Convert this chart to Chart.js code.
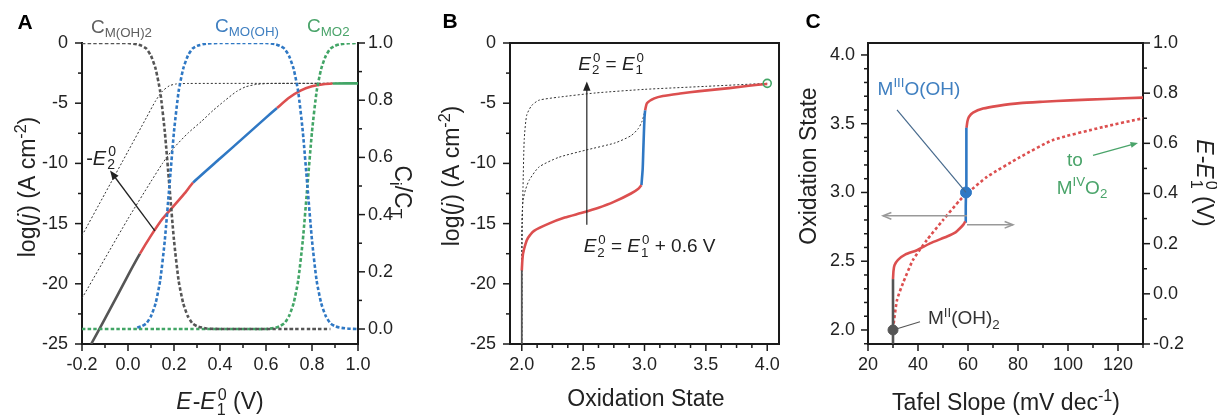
<!DOCTYPE html>
<html>
<head>
<meta charset="utf-8">
<script src="https://cdn.jsdelivr.net/npm/chart.js@4.4.1/dist/chart.umd.min.js"></script>
<style>
  html, body { margin: 0; padding: 0; background: #fff; }
  #wrap { position: relative; width: 1217px; height: 415px; overflow: hidden; }
  .panel { position: absolute; top: 0; height: 415px; }
</style>
</head>
<body>
<div id="wrap">
  <div class="panel" style="left:0;width:420px"><canvas id="chartA" width="420" height="415"></canvas></div>
  <div class="panel" style="left:420px;width:370px"><canvas id="chartB" width="370" height="415"></canvas></div>
  <div class="panel" style="left:790px;width:427px"><canvas id="chartC" width="427" height="415"></canvas></div>
</div>
<script>
// ---- panel A: surface fractions vs potential (right axis) ----
const aE      = [-0.2, 0.0, 0.04, 0.06, 0.08, 0.10, 0.12, 0.14, 0.16, 0.18, 0.20, 0.22, 0.24, 0.26, 0.28, 0.30, 0.34, 0.40, 0.50, 0.60, 0.64, 0.66, 0.68, 0.70, 0.72, 0.74, 0.76, 0.78, 0.80, 0.82, 0.84, 0.86, 0.88, 0.90, 0.92, 0.96, 1.0];
const aCMOH2  = [1, 1, 0.995, 0.99, 0.98, 0.955, 0.91, 0.83, 0.69, 0.5, 0.31, 0.17, 0.09, 0.045, 0.02, 0.01, 0.002, 0, 0, 0, 0, 0, 0, 0, 0, 0, 0, 0, 0, 0, 0, 0, 0, null, null, null, null];
const aCMOOH  = [null, null, 0.005, 0.01, 0.02, 0.045, 0.09, 0.17, 0.31, 0.5, 0.69, 0.83, 0.91, 0.955, 0.98, 0.99, 0.998, 1, 1, 1, 0.996, 0.99, 0.98, 0.955, 0.91, 0.83, 0.69, 0.5, 0.31, 0.17, 0.09, 0.045, 0.02, 0.01, 0.005, 0.001, 0];
const aCMO2   = [0, 0, 0, 0, 0, 0, 0, 0, 0, 0, 0, 0, 0, 0, 0, 0, 0, 0, 0, 0, 0.004, 0.01, 0.02, 0.045, 0.09, 0.17, 0.31, 0.5, 0.69, 0.83, 0.91, 0.955, 0.98, 0.99, 0.995, 0.999, 1];
// panel A: log(j) curves
const aJx  = [-0.16, -0.10, 0.0, 0.052, 0.10, 0.15, 0.20, 0.25, 0.283, 0.40, 0.50, 0.60, 0.648, 0.70, 0.75, 0.80, 0.85, 0.89, 0.95, 1.0];
const aJy  = [-25, -22.9, -19.3, -17.5, -16.0, -14.6, -13.5, -12.4, -11.6, -9.6, -7.9, -6.2, -5.4, -4.55, -3.95, -3.6, -3.42, -3.37, -3.35, -3.35];
const aT1x = [-0.2, -0.1, 0.0, 0.08, 0.12, 0.15, 0.18, 0.21, 0.26, 1.0];
const aT1y = [-16, -12.5, -9.0, -6.2, -4.8, -4.0, -3.55, -3.4, -3.36, -3.35];
const aT2x = [-0.2, 0.0, 0.1, 0.15, 0.2, 0.26, 0.32, 0.37, 0.42, 0.47, 0.51, 0.56, 0.62, 1.0];
const aT2y = [-21.2, -14.6, -11.5, -10.0, -8.7, -7.5, -6.5, -5.6, -4.8, -4.05, -3.65, -3.43, -3.36, -3.35];
const aXTicks = [-0.2, 0.0, 0.2, 0.4, 0.6, 0.8, 1.0];
const aYTicks = [0, -5, -10, -15, -20, -25];
const aY2Ticks = [0.0, 0.2, 0.4, 0.6, 0.8, 1.0];

// ---- panel B: log(j) vs oxidation state ----
const bGrayX = [2.0, 2.0];
const bGrayY = [-25, -18.9];
const bRed1X = [2.0, 2.005, 2.01, 2.03, 2.05, 2.1, 2.22, 2.35, 2.49, 2.62, 2.75, 2.89, 2.95, 2.975];
const bRed1Y = [-18.9, -18.0, -17.5, -16.7, -16.2, -15.6, -15.0, -14.5, -14.1, -13.7, -13.2, -12.5, -12.1, -11.8];
const bBlueX = [2.975, 2.985, 2.99, 2.995, 3.0, 3.005];
const bBlueY = [-11.8, -10.5, -9.0, -7.5, -6.2, -5.6];
const bRed2X = [3.005, 3.02, 3.08, 3.15, 3.29, 3.45, 3.69, 3.85, 4.0];
const bRed2Y = [-5.6, -5.0, -4.6, -4.4, -4.2, -4.0, -3.75, -3.55, -3.4];
const bT1x = [2.0, 2.002, 2.006, 2.01, 2.02, 2.04, 2.08, 2.14, 2.3, 2.6, 3.0, 3.5, 4.0];
const bT1y = [-25, -18, -14, -12, -8, -6, -5.2, -4.75, -4.5, -4.15, -3.85, -3.6, -3.35];
const bT2x = [2.0, 2.0, 2.01, 2.03, 2.06, 2.14, 2.3, 2.52, 2.76, 2.89, 2.95, 2.98, 3.0];
const bT2y = [-25, -15, -13.1, -12.2, -11.4, -10.3, -9.5, -8.9, -8.3, -7.7, -7.1, -6.5, -5.8];
const bEnd = [{ x: 4.0, y: -3.35 }];
const bXTicks = [2.0, 2.5, 3.0, 3.5, 4.0];
const bYTicks = [0, -5, -10, -15, -20, -25];

// ---- panel C: oxidation state / potential vs Tafel slope ----
const cGrayX = [30, 30];
const cGrayY = [1.9, 2.37];
const cRed1X = [30, 30.2, 30.6, 32, 35, 39.6, 44.8, 51.6, 55, 56.8, 58.3, 58.9];
const cRed1Y = [2.37, 2.43, 2.47, 2.51, 2.55, 2.58, 2.63, 2.68, 2.71, 2.74, 2.77, 2.79];
const cBlueX = [58.9, 59.1, 59.2, 59.3, 59.4];
const cBlueY = [2.79, 2.9, 3.0, 3.3, 3.47];
const cRed2X = [59.4, 59.8, 60.4, 62, 66, 72, 80.8, 90, 100.8, 115, 130];
const cRed2Y = [3.47, 3.52, 3.55, 3.58, 3.61, 3.63, 3.65, 3.66, 3.67, 3.68, 3.69];
const cPotX = [30, 31.6, 34, 38, 43.6, 50, 56.8, 59.6, 67.6, 80.8, 94, 114, 130];
const cPotY = [-0.14, -0.025, 0.043, 0.135, 0.215, 0.294, 0.374, 0.40, 0.466, 0.545, 0.613, 0.665, 0.70];
const cStart = [{ x: 30, y: 2.0 }];
const cMid = [{ x: 59.2, y: 3.0 }];
const cXTicks = [20, 40, 60, 80, 100, 120];
const cYTicks = [2.0, 2.5, 3.0, 3.5, 4.0];
const cY2Ticks = [-0.2, 0.0, 0.2, 0.4, 0.6, 0.8, 1.0];

const FF = '"Liberation Sans", Arial, Helvetica, sans-serif';
const RED = '#dc4f4f', BLUE = '#2f78c4', GREEN = '#42a566', GRAY = '#555555', INK = '#1a1a1a';

Chart.defaults.font.family = FF;
Chart.defaults.font.size = 18;
Chart.defaults.color = '#222';
Chart.defaults.animation = false;

const xy = (xs, ys) => xs.map((x, i) => ({ x, y: ys[i] }));

function curve(xs, ys, color, width, extra) {
  return Object.assign({
    data: xy(xs, ys), borderColor: color, borderWidth: width,
    pointRadius: 0, tension: 0.2, fill: false
  }, extra || {});
}

function axis(pos, min, max, labels, fmt, pad, size) {
  const horiz = pos === 'bottom' || pos === 'top';
  return {
    type: 'linear', position: pos, min: min, max: max,
    grid: { display: false, drawTicks: false },
    border: { display: true, color: INK, width: 2 },
    ticks: { padding: pad, color: '#222', font: { size: 18 }, autoSkip: false, maxRotation: 0, callback: fmt },
    afterBuildTicks: s => { s.ticks = labels.map(v => ({ value: v })); },
    afterFit: s => { if (horiz) s.height = size; else s.width = size; }
  };
}

const fix1 = v => Number(v).toFixed(1);
const plain = v => String(v);

// text with super/subscripts; runs: {t, it, sup, sub} or {st:[sup, sub]}
function rich(ctx, runs, x, y, size, color, rot, align) {
  const sm = size * 0.7;
  const f = (s, it) => (it ? 'italic ' : '') + s + 'px ' + FF;
  ctx.save();
  ctx.translate(x, y);
  if (rot) ctx.rotate(rot);
  ctx.fillStyle = color;
  ctx.textAlign = 'left';
  ctx.textBaseline = 'alphabetic';
  const widths = runs.map(r => {
    if (r.st) {
      ctx.font = f(sm);
      return Math.max(ctx.measureText(r.st[0]).width, ctx.measureText(r.st[1]).width) + 1;
    }
    ctx.font = f(r.sup || r.sub ? sm : size, r.it);
    return ctx.measureText(r.t).width + (r.it ? 1 : 0);
  });
  const total = widths.reduce((a, b) => a + b, 0);
  let cx = align === 'left' ? 0 : -total / 2;
  const base = size * 0.36;
  runs.forEach((r, i) => {
    if (r.st) {
      ctx.font = f(sm);
      ctx.fillText(r.st[0], cx + 1, base - size * 0.42);
      ctx.fillText(r.st[1], cx, base + size * 0.24);
    } else if (r.sup) {
      ctx.font = f(sm); ctx.fillText(r.t, cx, base - size * 0.4);
    } else if (r.sub) {
      ctx.font = f(sm); ctx.fillText(r.t, cx, base + size * 0.22);
    } else {
      ctx.font = f(size, r.it); ctx.fillText(r.t, cx, base);
    }
    cx += widths[i];
  });
  ctx.restore();
}

function arrow(ctx, x1, y1, x2, y2, color, lw, hl, open) {
  const a = Math.atan2(y2 - y1, x2 - x1);
  ctx.save();
  ctx.strokeStyle = color; ctx.fillStyle = color; ctx.lineWidth = lw;
  ctx.beginPath();
  ctx.moveTo(x1, y1);
  ctx.lineTo(x2 - (open ? 0 : hl * 0.7) * Math.cos(a), y2 - (open ? 0 : hl * 0.7) * Math.sin(a));
  ctx.stroke();
  ctx.beginPath();
  ctx.moveTo(x2 - hl * Math.cos(a - 0.38), y2 - hl * Math.sin(a - 0.38));
  ctx.lineTo(x2, y2);
  ctx.lineTo(x2 - hl * Math.cos(a + 0.38), y2 - hl * Math.sin(a + 0.38));
  if (open) ctx.stroke(); else { ctx.closePath(); ctx.fill(); }
  ctx.restore();
}

function segment(ctx, x1, y1, x2, y2, color, lw) {
  ctx.save();
  ctx.strokeStyle = color; ctx.lineWidth = lw;
  ctx.beginPath(); ctx.moveTo(x1, y1); ctx.lineTo(x2, y2); ctx.stroke();
  ctx.restore();
}

// outward tick marks, major + minor
function tickMarks(chart, id, side, step, majors) {
  const ctx = chart.ctx, s = chart.scales[id], ca = chart.chartArea;
  const lo = Math.ceil(Math.min(s.min, s.max) / step - 1e-6);
  const hi = Math.floor(Math.max(s.min, s.max) / step + 1e-6);
  ctx.save();
  ctx.strokeStyle = INK; ctx.lineWidth = 1.5;
  for (let n = lo; n <= hi; n++) {
    const v = n * step;
    const len = majors.some(m => Math.abs(m - v) < step / 10) ? 7 : 4;
    const p = s.getPixelForValue(v);
    ctx.beginPath();
    if (side === 'bottom') { ctx.moveTo(p, ca.bottom); ctx.lineTo(p, ca.bottom + len); }
    if (side === 'left') { ctx.moveTo(ca.left, p); ctx.lineTo(ca.left - len, p); }
    if (side === 'right') { ctx.moveTo(ca.right, p); ctx.lineTo(ca.right + len, p); }
    ctx.stroke();
  }
  ctx.restore();
}

function frame(chart, sides) {
  const ctx = chart.ctx, ca = chart.chartArea;
  ctx.save();
  ctx.strokeStyle = INK; ctx.lineWidth = 2;
  ctx.beginPath();
  if (sides.includes('top')) { ctx.moveTo(ca.left - 1, ca.top); ctx.lineTo(ca.right + 1, ca.top); }
  if (sides.includes('right')) { ctx.moveTo(ca.right, ca.top); ctx.lineTo(ca.right, ca.bottom); }
  ctx.stroke();
  ctx.restore();
}

function letter(ctx, t, x, y) {
  ctx.save();
  ctx.font = 'bold 21px ' + FF;
  ctx.fillStyle = '#000';
  ctx.textAlign = 'center'; ctx.textBaseline = 'middle';
  ctx.fillText(t, x, y);
  ctx.restore();
}

const LOGJ = [{ t: 'log(' }, { t: 'j', it: 1 }, { t: ') (A cm' }, { t: '-2', sup: 1 }, { t: ')' }];
const EE1 = [{ t: 'E', it: 1 }, { t: '-' }, { t: 'E', it: 1 }, { st: ['0', '1'] }, { t: ' (V)' }];
const baseOpts = {
  responsive: false,
  plugins: { legend: { display: false }, tooltip: { enabled: false } },
  elements: { line: { borderCapStyle: 'butt' } }
};

// ---------------- chart A ----------------
new Chart(document.getElementById('chartA'), {
  type: 'line',
  data: {
    datasets: [
      curve(aE, aCMOOH, BLUE, 2.6, { yAxisID: 'y2', borderDash: [3.5, 2.2], order: 0 }),
      curve(aE, aCMOH2, GRAY, 2.6, { yAxisID: 'y2', borderDash: [3.5, 2.2], order: 1 }),
      curve(aE, aCMO2, GREEN, 2.6, { yAxisID: 'y2', borderDash: [3.5, 2.2], order: 2 }),
      curve(aJx, aJy, RED, 2.6, {
        yAxisID: 'y', order: 3,
        segment: {
          borderColor: c => {
            const x = c.p0.parsed.x;
            if (x < 0.05) return GRAY;
            if (x < 0.28) return RED;
            if (x < 0.645) return BLUE;
            if (x < 0.88) return RED;
            return GREEN;
          }
        }
      }),
      curve(aT1x, aT1y, '#333', 1, { yAxisID: 'y', borderDash: [2, 2], order: 4 }),
      curve(aT2x, aT2y, '#333', 1, { yAxisID: 'y', borderDash: [2, 2], order: 4 })
    ]
  },
  options: Object.assign({}, baseOpts, {
    layout: { padding: { top: 43, left: 0, right: 0, bottom: 0 } },
    scales: {
      x: axis('bottom', -0.2, 1.0, aXTicks, fix1, 10, 71),
      y: axis('left', -25, 0, aYTicks, plain, 14, 82),
      y2: axis('right', -0.0524, 1.0, aY2Ticks, fix1, 10, 62)
    }
  }),
  plugins: [{
    id: 'decorA',
    afterDraw(c) {
      const ctx = c.ctx, sx = c.scales.x, sy = c.scales.y;
      tickMarks(c, 'x', 'bottom', 0.1, aXTicks);
      tickMarks(c, 'y', 'left', 2.5, aYTicks);
      tickMarks(c, 'y2', 'right', 0.1, aY2Ticks);
      letter(ctx, 'A', 25, 23);
      rich(ctx, LOGJ, 27, 187, 23, '#222', -Math.PI / 2);
      rich(ctx, [{ t: 'C' }, { t: 'i', sub: 1 }, { t: '/C' }, { t: 'T', sub: 1 }], 403, 192, 23, '#222', Math.PI / 2);
      rich(ctx, EE1, 220, 401, 23, '#222', 0);
      rich(ctx, [{ t: 'C' }, { t: 'M(OH)2', sub: 1 }], 91, 26, 19, '#5f5f5f', 0, 'left');
      rich(ctx, [{ t: 'C' }, { t: 'MO(OH)', sub: 1 }], 215, 25, 19, '#3f7fc0', 0, 'left');
      rich(ctx, [{ t: 'C' }, { t: 'MO2', sub: 1 }], 307, 25, 19, '#4aa46a', 0, 'left');
      arrow(ctx, sx.getPixelForValue(0.117), sy.getPixelForValue(-15.6),
        sx.getPixelForValue(-0.078), sy.getPixelForValue(-10.6), '#222', 1.3, 10, false);
      rich(ctx, [{ t: '-' }, { t: 'E', it: 1 }, { st: ['0', '2'] }],
        sx.getPixelForValue(-0.117), sy.getPixelForValue(-9.5), 20, '#222', 0);
    }
  }]
});

// ---------------- chart B ----------------
new Chart(document.getElementById('chartB'), {
  type: 'line',
  data: {
    datasets: [
      { data: bEnd, showLine: false, pointRadius: 4, pointBorderColor: GREEN, pointBorderWidth: 1.6,
        pointBackgroundColor: 'rgba(255,255,255,0)', order: 0 },
      curve(bGrayX, bGrayY, GRAY, 1.8, { tension: 0, order: 1 }),
      curve(bRed1X, bRed1Y, RED, 2.6, { order: 1 }),
      curve(bBlueX, bBlueY, BLUE, 2.6, { order: 1 }),
      curve(bRed2X, bRed2Y, RED, 2.6, { order: 1 }),
      curve(bT1x, bT1y, '#333', 1, { borderDash: [2, 2], order: 2 }),
      curve(bT2x, bT2y, '#333', 1, { borderDash: [2, 2], order: 2 })
    ]
  },
  options: Object.assign({}, baseOpts, {
    layout: { padding: { top: 43, left: 0, right: 6, bottom: 0 } },
    scales: {
      x: axis('bottom', 1.904, 4.096, bXTicks, fix1, 10, 71),
      y: axis('left', -25, 0, bYTicks, plain, 14, 90)
    }
  }),
  plugins: [{
    id: 'decorB',
    afterDraw(c) {
      const ctx = c.ctx, sx = c.scales.x, sy = c.scales.y;
      frame(c, ['top', 'right']);
      tickMarks(c, 'x', 'bottom', 0.125, bXTicks);
      tickMarks(c, 'y', 'left', 2.5, bYTicks);
      letter(ctx, 'B', 30, 22);
      rich(ctx, LOGJ, 31, 176, 23, '#222', -Math.PI / 2);
      ctx.save();
      ctx.font = '23px ' + FF; ctx.fillStyle = '#222'; ctx.textAlign = 'center'; ctx.textBaseline = 'middle';
      ctx.fillText('Oxidation State', 226, 400);
      ctx.restore();
      const ax = sx.getPixelForValue(2.53);
      arrow(ctx, ax, sy.getPixelForValue(-15.1), ax, sy.getPixelForValue(-3.2), '#222', 1.2, 10, false);
      rich(ctx, [{ t: 'E', it: 1 }, { st: ['0', '2'] }, { t: ' = ' }, { t: 'E', it: 1 }, { st: ['0', '1'] }],
        sx.getPixelForValue(2.728), sy.getPixelForValue(-1.66), 19, '#222', 0);
      rich(ctx, [{ t: 'E', it: 1 }, { st: ['0', '2'] }, { t: ' = ' }, { t: 'E', it: 1 }, { st: ['0', '1'] }, { t: ' + 0.6 V' }],
        sx.getPixelForValue(2.504), sy.getPixelForValue(-16.8), 19, '#222', 0, 'left');
    }
  }]
});

// ---------------- chart C ----------------
new Chart(document.getElementById('chartC'), {
  type: 'line',
  data: {
    datasets: [
      { data: cStart, showLine: false, pointRadius: 5, pointBackgroundColor: GRAY, pointBorderColor: GRAY, yAxisID: 'y', order: 0 },
      { data: cMid, showLine: false, pointRadius: 5.5, pointBackgroundColor: BLUE, pointBorderColor: BLUE, yAxisID: 'y', order: 0 },
      curve(cGrayX, cGrayY, GRAY, 2.6, { tension: 0, yAxisID: 'y', order: 1 }),
      curve(cRed1X, cRed1Y, RED, 2.6, { yAxisID: 'y', order: 1 }),
      curve(cBlueX, cBlueY, BLUE, 2.6, { tension: 0, yAxisID: 'y', order: 1 }),
      curve(cRed2X, cRed2Y, RED, 2.6, { yAxisID: 'y', order: 1 }),
      curve(cPotX, cPotY, RED, 2.6, { yAxisID: 'y2', borderDash: [3, 2.5], order: 2 })
    ]
  },
  options: Object.assign({}, baseOpts, {
    layout: { padding: { top: 43, left: 0, right: 0, bottom: 0 } },
    scales: {
      x: axis('bottom', 20, 130, cXTicks, plain, 10, 71),
      y: axis('left', 1.898, 4.087, cYTicks, fix1, 13, 78),
      y2: axis('right', -0.2, 1.0, cY2Ticks, fix1, 10, 74)
    }
  }),
  plugins: [{
    id: 'decorC',
    afterDraw(c) {
      const ctx = c.ctx, sx = c.scales.x, sy = c.scales.y;
      const X = v => sx.getPixelForValue(v), Y = v => sy.getPixelForValue(v);
      frame(c, ['top']);
      tickMarks(c, 'x', 'bottom', 10, cXTicks);
      tickMarks(c, 'y', 'left', 0.1, cYTicks);
      tickMarks(c, 'y2', 'right', 0.1, cY2Ticks);
      letter(ctx, 'C', 23, 22);
      ctx.save();
      ctx.font = '23px ' + FF; ctx.fillStyle = '#222'; ctx.textAlign = 'center'; ctx.textBaseline = 'middle';
      ctx.translate(20, 166); ctx.rotate(-Math.PI / 2);
      ctx.fillText('Oxidation State', 0, 0);
      ctx.restore();
      rich(ctx, EE1, 415, 183, 23, '#222', Math.PI / 2);
      rich(ctx, [{ t: 'Tafel Slope (mV dec' }, { t: '-1', sup: 1 }, { t: ')' }], 216, 402, 23, '#222', 0);
      // labels and pointers
      segment(ctx, X(31.6), Y(3.6), X(59.2), Y(3.0), '#46698c', 1.2);
      rich(ctx, [{ t: 'M' }, { t: 'III', sup: 1 }, { t: 'O(OH)' }], X(40.4), Y(3.76), 19, '#3f7fc0', 0);
      segment(ctx, X(40.8), Y(2.06), X(30), Y(2.0), '#555', 1.2);
      rich(ctx, [{ t: 'M' }, { t: 'II', sup: 1 }, { t: '(OH)' }, { t: '2', sub: 1 }], X(44), Y(2.09), 19, '#333', 0, 'left');
      rich(ctx, [{ t: 'to' }], X(102.8), Y(3.24), 19, '#4aa46a', 0);
      rich(ctx, [{ t: 'M' }, { t: 'IV', sup: 1 }, { t: 'O' }, { t: '2', sub: 1 }], X(105.6), Y(3.04), 19, '#4aa46a', 0);
      arrow(ctx, X(110), Y(3.27), X(128), Y(3.36), '#4aa46a', 1.3, 8, false);
      arrow(ctx, X(59.6), Y(2.83), X(26), Y(2.83), '#999', 1.5, 9, true);
      arrow(ctx, X(59.6), Y(2.765), X(78), Y(2.765), '#999', 1.5, 9, true);
    }
  }]
});
</script>
</body>
</html>
